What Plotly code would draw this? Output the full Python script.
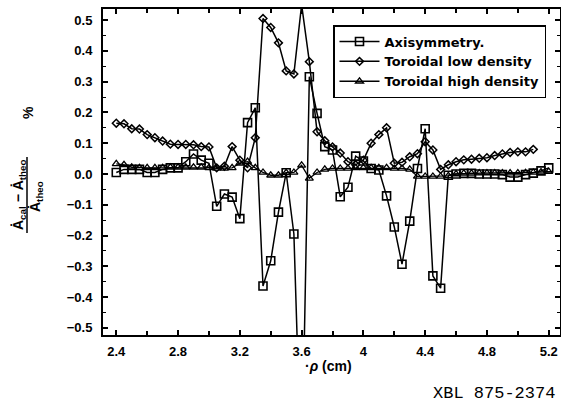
import plotly.graph_objects as go

# ---- data -------------------------------------------------------------
rho = [2.40, 2.45, 2.50, 2.55, 2.60, 2.65, 2.70, 2.75, 2.80, 2.85,
       2.90, 2.95, 3.00, 3.05, 3.10, 3.15, 3.20, 3.25, 3.30, 3.35,
       3.40, 3.45, 3.50, 3.55, 3.60, 3.65, 3.70, 3.75, 3.80, 3.85,
       3.90, 3.95, 4.00, 4.05, 4.10, 4.15, 4.20, 4.25, 4.30, 4.35,
       4.40, 4.45, 4.50, 4.55, 4.60, 4.65, 4.70, 4.75, 4.80, 4.85,
       4.90, 4.95, 5.00, 5.05, 5.10, 5.15, 5.20]

axisymmetry = [0.005, 0.015, 0.015, 0.015, 0.005, 0.005, 0.015, 0.020, 0.020, 0.040,
               0.065, 0.045, 0.035, -0.105, -0.065, -0.075, -0.145, 0.167, 0.215, -0.364,
               -0.282, -0.124, 0.004, -0.195, -1.000, 0.316, 0.197, 0.089, 0.078, -0.074,
               -0.043, 0.058, 0.042, 0.018, 0.013, -0.071, -0.172, -0.293, -0.153, 0.018,
               0.147, -0.331, -0.371, -0.004, 0.000, 0.002, 0.002, 0.000, 0.000, 0.000,
               -0.002, -0.010, -0.010, -0.002, 0.003, 0.010, 0.020]

toroidal_low = [0.165, 0.163, 0.147, 0.146, 0.128, 0.118, 0.107, 0.097, 0.096, 0.096,
                0.095, 0.089, 0.088, 0.020, 0.025, 0.089, 0.045, 0.020, 0.118, 0.505,
                0.476, 0.426, 0.335, 0.325, 0.550, 0.365, 0.137, 0.108, 0.088, 0.068,
                0.040, 0.030, 0.045, 0.100, 0.128, 0.150, 0.035, 0.038, 0.056, 0.066,
                0.105, 0.078, 0.015, 0.030, 0.040, 0.046, 0.048, 0.051, 0.053, 0.060,
                0.065, 0.070, 0.072, 0.072, 0.080]

toroidal_high = [0.033, 0.030, 0.022, 0.020, 0.020, 0.020, 0.020, 0.022, 0.022, 0.022,
                 0.022, 0.022, 0.020, 0.018, 0.018, 0.020, 0.035, 0.040, 0.020, 0.005,
                 -0.004, -0.004, 0.004, 0.005, 0.028, -0.014, 0.005, 0.015, 0.018, 0.018,
                 0.018, 0.020, 0.020, 0.020, 0.020, 0.020, 0.018, 0.018, 0.015, -0.008,
                 -0.008, -0.008, -0.008, -0.006, 0.000, 0.002, 0.002, 0.003, 0.003, 0.003,
                 0.003, 0.003, 0.003, 0.004, 0.005, 0.006, 0.008]

series_names = ["Axisymmetry.", "Toroidal low density", "Toroidal high density"]

x_range = [2.314, 5.273]
y_range = [-0.523, 0.536]

# ---- figure -----------------------------------------------------------
FONT = "Liberation Sans, DejaVu Sans, Arial, sans-serif"
LEG_FONT = "DejaVu Sans, Liberation Sans, sans-serif"
INK = "black"

fig = go.Figure()

fig.add_trace(go.Scatter(
    x=rho, y=axisymmetry, name=series_names[0], mode="lines+markers",
    line=dict(color=INK, width=1.5),
    marker=dict(symbol="square-open", size=8, color=INK, line=dict(width=1.6, color=INK)),
))
fig.add_trace(go.Scatter(
    x=rho[:len(toroidal_low)], y=toroidal_low, name=series_names[1], mode="lines+markers",
    line=dict(color=INK, width=1.5),
    marker=dict(symbol="diamond-open", size=6, color=INK, line=dict(width=1.5, color=INK)),
))
fig.add_trace(go.Scatter(
    x=rho, y=toroidal_high, name=series_names[2], mode="lines+markers",
    line=dict(color=INK, width=1.3),
    marker=dict(symbol="triangle-up-open", size=7, color=INK, line=dict(width=1.3, color=INK)),
))

axis_common = dict(
    showline=True, linecolor=INK, linewidth=2, mirror="ticks",
    ticks="inside", ticklen=5, tickwidth=1.5, tickcolor=INK,
    showgrid=False, zeroline=False, automargin=False,
    tickfont=dict(family=FONT, size=13, color=INK, weight="bold"),
)

fig.update_xaxes(
    range=x_range, tick0=2.4, dtick=0.4,
    minor=dict(ticks="inside", dtick=0.2, tick0=2.4, ticklen=4, tickwidth=1.5, tickcolor=INK, showgrid=False),
    ticklabelstandoff=3,
    **axis_common,
)
fig.update_yaxes(
    range=y_range, tick0=0, dtick=0.1, tickformat=".1f",
    minor=dict(ticks="inside", dtick=0.05, tick0=0, ticklen=3, tickwidth=1.2, tickcolor=INK, showgrid=False),
    ticklabelstandoff=6,
    **axis_common,
)

W_PLOT = 457.0
H_PLOT = 326.0
L, T = 103.0, 9.0   # plot-area corner in window pixels


def px(xp):
    return (xp - L) / W_PLOT


def py(yp):
    return 1 - (yp - T) / H_PLOT


ann_font = dict(family=FONT, size=14, color=INK, weight="bold")

annotations = [
    # y-axis label: fraction, rotated
    dict(text="Ȧ<sub>cal</sub> − Ȧ<sub>theo</sub>", x=px(19), y=py(195), xref="paper", yref="paper",
         xanchor="center", yanchor="middle", textangle=-90, showarrow=False, font=ann_font),
    dict(text="Ȧ<sub>theo</sub>", x=px(36), y=py(197), xref="paper", yref="paper",
         xanchor="center", yanchor="middle", textangle=-90, showarrow=False, font=ann_font),
    dict(text="%", x=px(28), y=py(113), xref="paper", yref="paper",
         xanchor="center", yanchor="middle", textangle=-90, showarrow=False, font=ann_font),
    # x-axis label
    dict(text="·<i>ρ</i> (cm)", x=px(328), y=py(366), xref="paper", yref="paper",
         xanchor="center", yanchor="middle", showarrow=False,
         font=dict(family=FONT, size=14, color=INK, weight="bold")),
    # figure code
    dict(text="XBL 875-2374", x=px(557), y=py(393), xref="paper", yref="paper",
         xanchor="right", yanchor="middle", showarrow=False,
         font=dict(family="Liberation Mono, DejaVu Sans Mono, monospace", size=17, color=INK)),
]

shapes = [
    dict(type="line", xref="paper", yref="paper", x0=px(27), x1=px(27), y0=py(157), y1=py(233),
         line=dict(color=INK, width=1.5)),
]

fig.update_layout(
    width=561, height=405,
    margin=dict(l=L, r=1, t=T, b=70, autoexpand=False),
    paper_bgcolor="white", plot_bgcolor="white",
    font=dict(family=FONT, color=INK),
    showlegend=True,
    legend=dict(
        x=px(333), y=py(25), xanchor="left", yanchor="top",
        bgcolor="white", bordercolor=INK, borderwidth=1.5,
        font=dict(family=LEG_FONT, size=13, color=INK, weight="bold"),
        tracegroupgap=0, itemwidth=40,
    ),
    annotations=annotations,
    shapes=shapes,
)

# remove the default 8px page margin so the 561x405 figure fills the window exactly
fig.write_html(
    "out.html",
    config={"displayModeBar": False},
    post_script="document.body.style.margin='0px';document.body.style.overflow='hidden';",
)
